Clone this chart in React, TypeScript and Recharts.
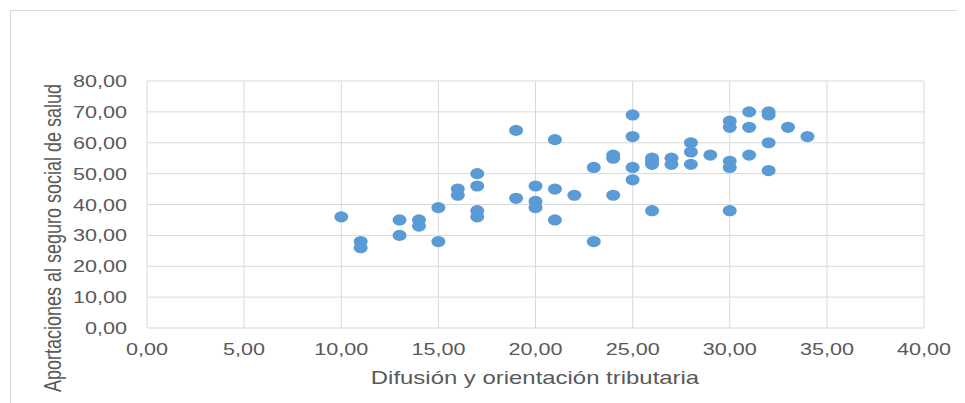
import React from "react";
import {
  ScatterChart,
  Scatter,
  XAxis,
  YAxis,
  CartesianGrid,
} from "recharts";

const difusion = [
  10, 11, 11, 13, 13, 14, 14, 15, 15, 16, 16, 17, 17, 17, 17, 19, 19, 20, 20,
  20, 21, 21, 21, 22, 23, 23, 24, 24, 24, 25, 25, 25, 25, 26, 26, 26, 26, 27,
  27, 28, 28, 28, 29, 30, 30, 30, 30, 30, 31, 31, 31, 32, 32, 32, 32, 33, 34,
];
const aportaciones = [
  36, 28, 26, 35, 30, 35, 33, 39, 28, 45, 43, 50, 46, 38, 36, 64, 42, 46, 41,
  39, 61, 45, 35, 43, 52, 28, 56, 55, 43, 69, 62, 52, 48, 55, 54, 53, 38, 55,
  53, 60, 57, 53, 56, 67, 65, 54, 52, 38, 70, 65, 56, 70, 69, 60, 51, 65, 62,
];
const xTicks = [0, 5, 10, 15, 20, 25, 30, 35, 40];
const yTicks = [0, 10, 20, 30, 40, 50, 60, 70, 80];

const points = difusion.map((x, i) => ({ x, y: aportaciones[i] }));

const FONT = "'Liberation Sans', Arial, sans-serif";
const TEXT = "#595959";
const fmt = (v: number) => v.toFixed(2).replace(".", ",");

// the picture is a bit stretched sideways, so the text is too
const XTick = (props: any) => (
  <text
    transform={`translate(${props.x},${props.y + 19}) scale(1.27,1)`}
    textAnchor="middle"
    fontSize={17}
    fontFamily={FONT}
    fill={TEXT}
  >
    {fmt(props.payload.value)}
  </text>
);

const YTick = (props: any) => (
  <text
    transform={`translate(${props.x - 12},${props.y + 6}) scale(1.27,1)`}
    textAnchor="end"
    fontSize={17}
    fontFamily={FONT}
    fill={TEXT}
  >
    {fmt(props.payload.value)}
  </text>
);

const Dot = (props: any) => (
  <ellipse cx={props.cx} cy={props.cy} rx={7} ry={5.6} fill="#5B9BD5" />
);

export default function App() {
  return (
    <div style={{ position: "relative", width: 957, height: 395, overflow: "hidden" }}>
      <div
        style={{
          position: "absolute",
          left: 2,
          top: 2,
          width: 955,
          height: 393,
          borderLeft: "1px solid #d9d9d9",
          borderTop: "1px solid #d9d9d9",
          boxSizing: "border-box",
        }}
      />
      <ScatterChart
        width={957}
        height={395}
        margin={{ top: 73, right: 41, bottom: 15, left: 0 }}
        style={{ position: "absolute", left: 0, top: 0 }}
      >
        <CartesianGrid stroke="#d9d9d9" strokeWidth={1} />
        <XAxis
          type="number"
          dataKey="x"
          domain={[0, 40]}
          ticks={xTicks}
          interval={0}
          height={60}
          axisLine={false}
          tickLine={false}
          tick={<XTick />}
        />
        <YAxis
          type="number"
          dataKey="y"
          domain={[0, 80]}
          ticks={yTicks}
          interval={0}
          width={139}
          axisLine={false}
          tickLine={false}
          tick={<YTick />}
        />
        <Scatter data={points} shape={<Dot />} isAnimationActive={false} />
        <text
          transform="translate(527,376) scale(1.33,1)"
          textAnchor="middle"
          fontSize={18}
          fontFamily={FONT}
          fill={TEXT}
        >
          Difusión y orientación tributaria
        </text>
        <text
          transform="translate(53,230) scale(1.3,1) rotate(-90)"
          textAnchor="middle"
          fontSize={18}
          fontFamily={FONT}
          fill={TEXT}
        >
          Aportaciones al seguro social de salud
        </text>
      </ScatterChart>
    </div>
  );
}
